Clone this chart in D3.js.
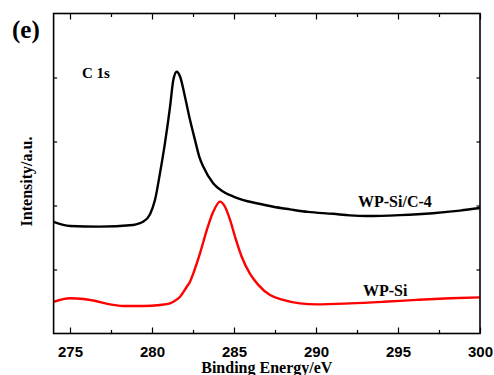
<!DOCTYPE html>
<html>
<head>
<meta charset="utf-8">
<script src="https://cdn.jsdelivr.net/npm/d3@7"></script>
<style>
    body { margin: 0; background: #fff; }
    svg { display: block; }
</style>
</head>
<body>
<svg width="494" height="375"></svg>
<script>
// C 1s spectra (binding energy in eV, intensity in a.u.)
let energyC4 = [274.0, 275.0, 276.8, 278.84, 279.27, 279.45, 279.88, 280.18, 280.49, 280.79,
    281.10, 281.30, 281.51, 281.71, 282.01, 282.32, 282.62, 282.88, 283.13, 283.74,
    284.35, 284.96, 285.57, 286.38, 287.40, 288.41, 289.51, 291.04, 292.07, 293.09,
    295.12, 297.13, 298.78, 300.0];
let intensityC4 = [34.9, 33.6, 33.4, 33.9, 34.5, 34.9, 37.3, 41.7, 50.2, 59.5,
    70.8, 79.2, 81.8, 80.3, 74.0, 66.7, 60.5, 55.3, 52.1, 46.9,
    44.3, 42.8, 41.7, 40.7, 39.6, 38.8, 38.0, 37.4, 36.9, 36.7,
    37.0, 37.6, 38.4, 39.2];

let energySi = [274.0, 275.0, 275.81, 276.42, 277.44, 278.25, 279.47, 280.49, 281.10, 281.30,
    281.71, 282.12, 282.32, 282.52, 282.93, 283.34, 283.74, 284.15, 284.45, 284.76,
    285.06, 285.47, 285.98, 286.48, 287.20, 287.99, 289.02, 290.04, 292.07, 294.10,
    296.14, 298.17, 300.0];
let intensitySi = [9.9, 11.0, 10.8, 10.3, 9.1, 8.6, 8.6, 8.9, 9.4, 9.9,
    11.5, 14.6, 16.2, 18.8, 25.1, 32.3, 38.1, 41.2, 39.6, 35.5,
    30.3, 24.0, 18.6, 15.2, 12.0, 10.5, 9.4, 9.1, 9.4, 9.9,
    10.5, 11.0, 11.3];

let xTicks = [275, 280, 285, 290, 295, 300];
let xMinorTicks = [277.5, 282.5, 287.5, 292.5, 297.5];
let yTicks = [20, 40, 60, 80];

let series = [
    {name: "WP-Si/C-4", color: "#000", x: energyC4, y: intensityC4},
    {name: "WP-Si", color: "#f00", x: energySi, y: intensitySi}
];

let svg = d3.select("svg");
let margin = {top: 13.5, right: 14, bottom: 41.5, left: 53.6},
    width = svg.attr("width") - margin.left - margin.right,
    height = svg.attr("height") - margin.top - margin.bottom,
    g = svg.append("g").attr("transform", "translate(" + margin.left + "," + margin.top + ")");

let x = d3.scaleLinear().domain([274, 300]).range([0, width]);
let y = d3.scaleLinear().domain([0, 100]).range([height, 0]);

let line = d3.line()
    .curve(d3.curveMonotoneX)
    .x(function (d) { return x(d[0]); })
    .y(function (d) { return y(d[1]); });

series.forEach(function (s) {
    g.append("path")
        .datum(d3.zip(s.x, s.y))
        .attr("fill", "none")
        .attr("stroke", s.color)
        .attr("stroke-width", 2.4)
        .attr("stroke-linejoin", "round")
        .attr("d", line);
});

// ticks point inward on all four sides
function tickStyle(sel) {
    sel.select(".domain").remove();
    sel.selectAll("line").attr("stroke", "#000").attr("stroke-width", 1.2);
}

g.append("g")
    .attr("transform", "translate(0," + height + ")")
    .call(d3.axisBottom(x).tickValues(xTicks).tickSize(-6).tickPadding(13).tickFormat(d3.format("d")))
    .call(tickStyle)
    .selectAll("text")
    .attr("fill", "#000")
    .style("font", "bold 15px 'Liberation Sans', Arial, sans-serif");

g.append("g")
    .attr("transform", "translate(0," + height + ")")
    .call(d3.axisBottom(x).tickValues(xMinorTicks).tickSize(-3.5).tickFormat(""))
    .call(tickStyle);

g.append("g")
    .call(d3.axisTop(x).tickValues(xTicks).tickSize(-6).tickFormat(""))
    .call(tickStyle);

g.append("g")
    .call(d3.axisTop(x).tickValues(xMinorTicks).tickSize(-3.5).tickFormat(""))
    .call(tickStyle);

g.append("g")
    .call(d3.axisLeft(y).tickValues(yTicks).tickSize(-3.5).tickFormat(""))
    .call(tickStyle);

g.append("g")
    .attr("transform", "translate(" + width + ",0)")
    .call(d3.axisRight(y).tickValues(yTicks).tickSize(-3.5).tickFormat(""))
    .call(tickStyle);

g.append("rect")
    .attr("width", width)
    .attr("height", height)
    .attr("fill", "none")
    .attr("stroke", "#000")
    .attr("stroke-width", 1.6);

let serif = "'Liberation Serif', 'Times New Roman', serif";

svg.append("text")
    .attr("x", margin.left + width / 2)
    .attr("y", 373)
    .attr("text-anchor", "middle")
    .style("font", "bold 16px " + serif)
    .text("Binding Energy/eV");

svg.append("text")
    .attr("transform", "translate(32," + (margin.top + height / 2 + 8) + ") rotate(-90)")
    .attr("text-anchor", "middle")
    .style("font", "bold 16px " + serif)
    .text("Intensity/a.u.");

svg.append("text")
    .attr("x", 12)
    .attr("y", 38)
    .style("font", "bold 25px " + serif)
    .text("(e)");

svg.append("text")
    .attr("x", 82)
    .attr("y", 78)
    .style("font", "bold 15px " + serif)
    .text("C 1s");

svg.append("text")
    .attr("x", 358)
    .attr("y", 207)
    .style("font", "bold 16px " + serif)
    .text("WP-Si/C-4");

svg.append("text")
    .attr("x", 363)
    .attr("y", 296)
    .style("font", "bold 16px " + serif)
    .text("WP-Si");
</script>
</body>
</html>
